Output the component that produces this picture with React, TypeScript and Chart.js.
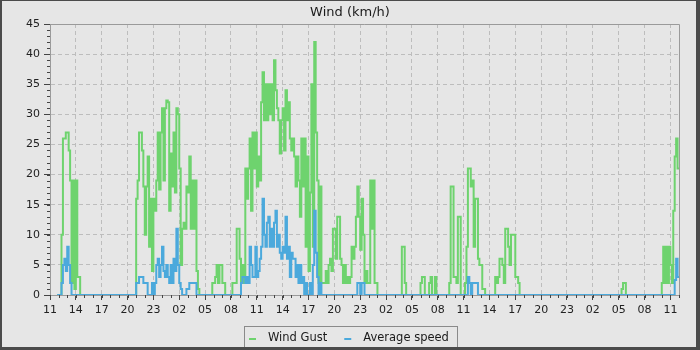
import React, { useEffect, useRef } from "react";
import { Chart, registerables } from "chart.js";

Chart.register(...registerables);

// ---- text ----
const chartTitle = "Wind (km/h)";
const seriesNames = ["Wind Gust", "Average speed"];
const seriesColors = ["#6ed36e", "#4ba9dc"];

// ---- time axis: hours after 11:00 on the first day ----
const SAMPLE_HOURS = 1 / 6; // one sample every 10 minutes
const FIRST_SAMPLE = 5;
const LAST_SAMPLE = 438;
const X_MIN = 0;
const X_MAX = 73;
const xTickHours = [0, 3, 6, 9, 12, 15, 18, 21, 24, 27, 30, 33, 36, 39, 42, 45, 48, 51, 54, 57, 60, 63, 66, 69, 72];
const xTickLabels = ["11", "14", "17", "20", "23", "02", "05", "08", "11", "14", "17", "20", "23", "02", "05", "08", "11", "14", "17", "20", "23", "02", "05", "08", "11"];
const xMinorStep = 1;

// ---- value axis ----
const Y_MIN = 0;
const Y_MAX = 45;
const Y_STEP = 5;
const yMinorStep = 1;

// ---- Wind Gust (km/h): runs of 10-minute samples, start = sample index; calm (0) elsewhere ----
const gustStarts = [8, 60, 113, 245, 258, 264, 268, 278, 310, 398, 426];
const gustRun1 = [10, 26, 26, 27, 27, 24, 19, 2, 19, 1, 19, 3, 3];
const gustRun2 = [16, 19, 27, 27, 24, 18, 10, 18, 23, 8, 16, 4, 16, 14, 19, 27, 17.5, 27, 31, 19, 31, 32.3, 32, 14, 23.5, 18, 27, 17, 31, 30, 21, 5, 11, 12, 11, 18, 17, 23, 11, 19, 11, 19, 4, 1];
const gustRun3 = [2, 2, 3, 5, 2, 5, 5, 2, 2, 0, 0, 0, 0, 0, 2, 2, 2, 11, 11, 6, 2, 5, 2, 21, 16, 21, 26, 14, 27, 21, 27, 18, 23, 19, 32, 37, 29, 35, 29, 35, 30, 35, 29, 39, 34, 31, 29, 23.5, 29, 31, 24, 34, 29, 32, 26, 24, 26, 23, 18, 23, 19, 13, 26, 18, 26, 8, 23, 4, 17, 35, 8, 42, 27, 19, 2, 18, 2, 2, 2, 4, 2, 5, 6, 4, 11, 11, 6, 13, 13, 6, 5, 2, 5, 2, 3, 2, 3, 8, 6, 8, 13, 18, 13, 7.5, 16, 10, 2, 4, 2, 2, 19, 11, 19, 2, 2];
const gustRun4 = [8, 8, 2];
const gustRun5 = [2, 3, 3];
const gustRun6 = [2, 3];
const gustRun7 = [3];
const gustRun8 = [2, 18, 18, 3, 3, 2, 13, 13, 0, 0, 0, 2, 8, 21, 21, 18, 19, 8, 16, 16, 6, 5, 5, 1, 1];
const gustRun9 = [3, 2, 3, 6, 6, 5, 2, 11, 11, 8, 5, 10, 10, 10, 3, 3, 2];
const gustRun10 = [1, 2, 2];
const gustRun11 = [2, 8, 2, 8, 2, 8, 5, 2, 14, 23, 26, 21, 21];
const gustRuns = [gustRun1, gustRun2, gustRun3, gustRun4, gustRun5, gustRun6, gustRun7, gustRun8, gustRun9, gustRun10, gustRun11];

// ---- Average speed (km/h) ----
const avgStarts = [8, 60, 133, 188, 214, 217, 291, 294, 435];
const avgRun1 = [2, 5, 6, 4, 8, 5, 2];
const avgRun2 = [2, 2, 3, 3, 3, 2, 2, 2, 0, 0, 0, 2, 0, 2, 5, 6, 3, 5, 8, 4, 3, 5, 3, 2, 5, 2, 6, 4, 11, 5, 2, 1, 0, 0, 0, 1, 1, 2, 2, 2, 2, 2];
const avgRun3 = [2, 3, 3, 2, 3, 2, 8, 5, 3, 3, 8, 3, 4, 6, 8, 16, 10, 8, 12, 13, 8, 11, 8, 12, 14, 8, 10, 7, 6, 8, 7, 13, 6, 8, 3, 7, 6, 6, 3, 5, 2, 5, 2, 3, 0, 2, 0, 0, 2, 0, 5, 14, 7, 3];
const avgRun4 = [2];
const avgRun5 = [2, 2];
const avgRun6 = [2, 2];
const avgRun7 = [3, 2];
const avgRun8 = [2, 2, 2, 2];
const avgRun9 = [2.5, 6, 3, 3];
const avgRuns = [avgRun1, avgRun2, avgRun3, avgRun4, avgRun5, avgRun6, avgRun7, avgRun8, avgRun9];

function buildSeries(starts: number[], runs: number[][]) {
  const vals: number[] = new Array(LAST_SAMPLE + 1).fill(0);
  starts.forEach((s, i) => {
    runs[i].forEach((v, j) => {
      vals[s + j] = v;
    });
  });
  const pts: { x: number; y: number }[] = [];
  for (let i = FIRST_SAMPLE; i <= LAST_SAMPLE; i++) {
    pts.push({ x: i * SAMPLE_HOURS, y: vals[i] });
  }
  return pts;
}

const FONT = '"DejaVu Sans", sans-serif';

const decorPlugin = {
  id: "decor",
  beforeDraw(chart: any) {
    const { ctx } = chart;
    ctx.save();
    ctx.fillStyle = "#e6e6e6";
    ctx.fillRect(0, 0, chart.width, chart.height);
    ctx.restore();
  },
  afterDraw(chart: any) {
    const { ctx, chartArea } = chart;
    const xs = chart.scales.x;
    const ys = chart.scales.y;
    ctx.save();

    // plot outline (top / right)
    ctx.strokeStyle = "#9a9a9a";
    ctx.lineWidth = 1;
    ctx.beginPath();
    ctx.moveTo(chartArea.left, chartArea.top + 0.5);
    ctx.lineTo(chartArea.right + 0.5, chartArea.top + 0.5);
    ctx.lineTo(chartArea.right + 0.5, chartArea.bottom);
    ctx.stroke();

    // minor ticks
    ctx.strokeStyle = "#444";
    ctx.beginPath();
    for (let h = X_MIN; h <= X_MAX; h += xMinorStep) {
      const px = Math.round(xs.getPixelForValue(h)) + 0.5;
      ctx.moveTo(px, chartArea.bottom);
      ctx.lineTo(px, chartArea.bottom + 3);
    }
    for (let v = Y_MIN; v <= Y_MAX; v += yMinorStep) {
      const py = Math.round(ys.getPixelForValue(v)) + 0.5;
      ctx.moveTo(chartArea.left - 3, py);
      ctx.lineTo(chartArea.left, py);
    }
    ctx.stroke();

    // title
    ctx.fillStyle = "#1a1a1a";
    ctx.font = `13px ${FONT}`;
    ctx.textAlign = "center";
    ctx.textBaseline = "alphabetic";
    ctx.fillText(chartTitle, chart.width / 2, 15.5);

    // legend
    ctx.font = `11.5px ${FONT}`;
    ctx.textAlign = "left";
    const padL = 5, mark = 7, gap = 12, itemGap = 17, padR = 8;
    const widths = seriesNames.map((n) => ctx.measureText(n).width);
    let total = padL + padR;
    widths.forEach((w, i) => {
      total += mark + gap + w + (i < widths.length - 1 ? itemGap : 0);
    });
    const boxLeft = Math.round(chart.width / 2 + 0.5 - total / 2);
    ctx.strokeStyle = "#8a8a8a";
    ctx.strokeRect(boxLeft + 0.5, 326.5, Math.round(total), 24);
    let cx = boxLeft + padL;
    seriesNames.forEach((n, i) => {
      ctx.fillStyle = seriesColors[i];
      ctx.fillRect(cx, 338, mark, 2);
      cx += mark + gap;
      ctx.fillStyle = "#1a1a1a";
      ctx.fillText(n, cx, 341);
      cx += widths[i] + itemGap;
    });

    // outer frame
    ctx.fillStyle = "#4b4b4b";
    ctx.fillRect(0, 0, chart.width, 1);
    ctx.fillRect(0, 0, 2, chart.height);
    ctx.fillRect(chart.width - 4, 0, 4, chart.height);
    ctx.fillRect(0, chart.height - 3, chart.width, 3);
    ctx.restore();
  },
};

export default function App() {
  const canvasRef = useRef<HTMLCanvasElement | null>(null);

  useEffect(() => {
    document.body.style.margin = "0";
    const canvas = canvasRef.current;
    if (!canvas) return;
    const gustData = buildSeries(gustStarts, gustRuns);
    const avgData = buildSeries(avgStarts, avgRuns);

    const chart = new Chart(canvas, {
      type: "line",
      data: {
        datasets: [
          {
            label: seriesNames[0],
            data: gustData,
            borderColor: seriesColors[0],
            backgroundColor: seriesColors[0],
            borderWidth: 2,
            stepped: true,
            pointRadius: 0,
            fill: false,
            order: 2,
          },
          {
            label: seriesNames[1],
            data: avgData,
            borderColor: seriesColors[1],
            backgroundColor: seriesColors[1],
            borderWidth: 2,
            stepped: true,
            pointRadius: 0,
            fill: false,
            order: 1,
          },
        ],
      },
      options: {
        responsive: false,
        animation: false,
        events: [],
        devicePixelRatio: 1,
        layout: { padding: { top: 24, right: 21, bottom: 0, left: 0 } },
        plugins: {
          legend: { display: false },
          title: { display: false },
          tooltip: { enabled: false },
        },
        scales: {
          x: {
            type: "linear",
            min: X_MIN,
            max: X_MAX,
            afterFit: (scale: any) => {
              scale.height = 55;
            },
            afterBuildTicks: (scale: any) => {
              scale.ticks = xTickHours.map((v) => ({ value: v }));
            },
            ticks: {
              autoSkip: false,
              maxRotation: 0,
              minRotation: 0,
              padding: 4,
              color: "#222",
              font: { family: FONT, size: 11 },
              callback: (_v: any, i: number) => xTickLabels[i],
            },
            grid: {
              color: "#bdbdbd",
              lineWidth: 1,
              tickLength: 5,
              tickColor: "#444",
              drawTicks: true,
            },
            border: { display: true, color: "#9a9a9a", width: 1, dash: [4, 3] },
          },
          y: {
            type: "linear",
            min: Y_MIN,
            max: Y_MAX,
            afterFit: (scale: any) => {
              scale.width = 50;
            },
            ticks: {
              stepSize: Y_STEP,
              padding: 4,
              color: "#222",
              font: { family: FONT, size: 11 },
            },
            grid: {
              color: "#bdbdbd",
              lineWidth: 1,
              tickLength: 6,
              tickColor: "#444",
              drawTicks: true,
            },
            border: { display: true, color: "#9a9a9a", width: 1, dash: [4, 3] },
          },
        },
      },
      plugins: [decorPlugin],
    } as any);

    return () => {
      chart.destroy();
    };
  }, []);

  return (
    <div style={{ position: "fixed", left: 0, top: 0, width: 700, height: 350 }}>
      <canvas ref={canvasRef} width={700} height={350} style={{ display: "block", width: 700, height: 350 }} />
    </div>
  );
}
